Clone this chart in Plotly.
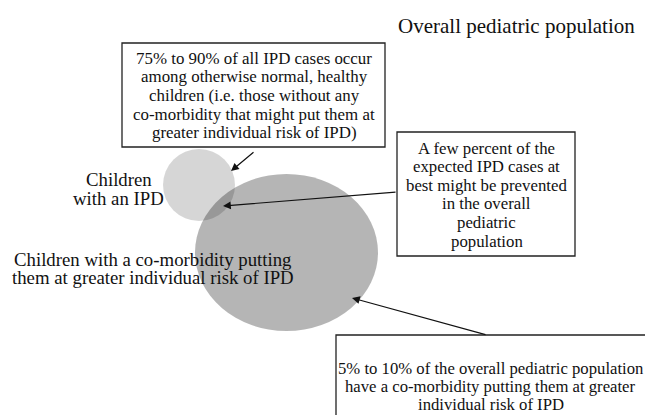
import plotly.graph_objects as go

# Diagram content (pixel-like coordinate space: x 0..645, y 0..415 top-down)
title_text = "Overall pediatric population"
box1_text = ["75% to 90% of all IPD cases occur",
             "among otherwise normal, healthy",
             "children (i.e. those without any",
             "co-morbidity that might put them at",
             "greater individual risk of IPD)"]
box2_text = ["A few percent of the", "expected IPD cases at",
             "best might be prevented", "in the overall",
             "pediatric", "population"]
box3_text = ["5% to 10% of the overall pediatric population",
             "have a co-morbidity putting them at greater",
             "individual risk of IPD"]
label_ipd = ["Children", "with an IPD"]
label_comorb = ["Children with a co-morbidity putting",
                "them at greater individual risk of IPD"]

# Ellipses: (x0, y0, x1, y1)
small_circle = (163, 149, 235, 221)
big_circle = (195, 174, 378, 331)

# Boxes
box1 = (122, 43, 385, 147)
box2 = (397, 132, 575, 256)
box3 = (336, 335, 660, 430)

# Text line anchors: (center x, first line y, line step, font size)
title_pos = (516, 26, 0, 21)
box1_pos = (254, 58.3, 18.6, 16.9)
box2_pos = (486.5, 148, 18.6, 16.8)
box3_pos = (490.5, 368.3, 18.3, 16.7)
ipd_pos = (118.5, 179.5, 19, 18.8)
comorb_pos = (153, 259, 18.5, 18.8)

# Arrows: (tail_x, tail_y, head_x, head_y)
arrows = [(255, 151, 231, 171), (397, 192, 223, 206), (487, 335, 352, 298)]

FONT = "Liberation Serif, Times New Roman, serif"

fig = go.Figure()
fig.add_trace(go.Scatter(x=[0, 645], y=[0, 415], mode="markers",
                         marker=dict(opacity=0), hoverinfo="skip", showlegend=False))

fig.add_shape(type="circle", x0=big_circle[0], y0=big_circle[1], x1=big_circle[2], y1=big_circle[3],
              fillcolor="rgba(0,0,0,0.29)", line=dict(width=0), layer="below")
fig.add_shape(type="circle", x0=small_circle[0], y0=small_circle[1], x1=small_circle[2], y1=small_circle[3],
              fillcolor="rgba(0,0,0,0.16)", line=dict(width=0), layer="below")

for b in (box1, box2, box3):
    fig.add_shape(type="rect", x0=b[0], y0=b[1], x1=b[2], y1=b[3],
                  fillcolor="white", line=dict(color="#222", width=1.3))


def add_lines(lines, pos):
    cx, y0, step, size = pos
    for i, line in enumerate(lines):
        fig.add_annotation(x=cx, y=y0 + i * step, text=line, showarrow=False,
                           xref="x", yref="y", xanchor="center", yanchor="middle",
                           font=dict(family=FONT, size=size, color="#111"))


add_lines([title_text], title_pos)
add_lines(box1_text, box1_pos)
add_lines(box2_text, box2_pos)
add_lines(box3_text, box3_pos)
add_lines(label_ipd, ipd_pos)
add_lines(label_comorb, comorb_pos)

for tx, ty, hx, hy in arrows:
    fig.add_annotation(x=hx, y=hy, ax=tx, ay=ty, xref="x", yref="y", axref="x", ayref="y",
                       text="", showarrow=True, arrowhead=2, arrowsize=1.3, arrowwidth=1.2,
                       arrowcolor="#111")

fig.update_xaxes(range=[0, 645], visible=False, fixedrange=True)
fig.update_yaxes(range=[415, 0], visible=False, fixedrange=True)
fig.update_layout(width=645, height=415, margin=dict(l=0, r=0, t=0, b=0),
                  plot_bgcolor="white", paper_bgcolor="white", showlegend=False)

fig.write_html("out.html", config={"displayModeBar": False},
               post_script="document.body.style.margin='0';")
